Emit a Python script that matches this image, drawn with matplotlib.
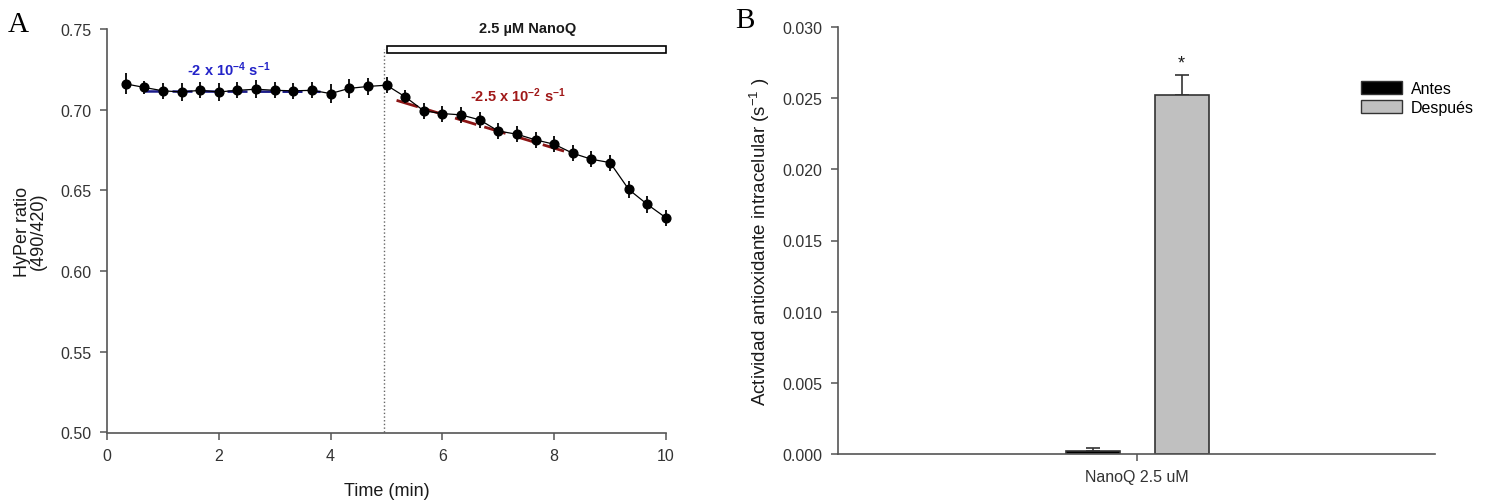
import numpy as np
import matplotlib
matplotlib.use('Agg')
from matplotlib import pyplot as plt
from matplotlib.patches import Rectangle, Patch

plt.rcParams['font.family'] = ['Liberation Sans', 'DejaVu Sans']
plt.rcParams['mathtext.default'] = 'regular'

# Panel A: HyPer ratio over time
time_min = np.arange(1, 31) / 3.0
hyper_ratio = [0.716, 0.7138, 0.7117, 0.711, 0.712, 0.711, 0.712, 0.7127, 0.712, 0.7117,
               0.712, 0.710, 0.7132, 0.7144, 0.7152, 0.708, 0.6993, 0.6976, 0.6968, 0.6937,
               0.6868, 0.6848, 0.6813, 0.6786, 0.673, 0.6693, 0.6672, 0.6506, 0.6413, 0.633]
hyper_sem = [0.0065, 0.004, 0.005, 0.0055, 0.005, 0.0055, 0.005, 0.0055, 0.005, 0.005,
             0.005, 0.006, 0.006, 0.005, 0.005, 0.004, 0.005, 0.005, 0.005, 0.005,
             0.005, 0.005, 0.005, 0.005, 0.005, 0.005, 0.005, 0.005, 0.005, 0.005]
fit_before_x = [0.68, 3.82]
fit_before_y = [0.7113, 0.7111]
fit_after_x = [5.18, 8.35]
fit_after_y = [0.7058, 0.6725]
treatment_start = 4.95
treatment_bar = (5.0, 10.0)

# Panel B: antioxidant activity
groups = ['Antes', 'Después']
category = 'NanoQ 2.5 uM'
activity = [0.0002, 0.02524]
activity_err = [0.0002, 0.0014]

axis_gray = '#555555'
label_gray = '#333333'

fig = plt.figure(figsize=(14.87, 5.02), dpi=100)

# ---- Panel A ----
ax1 = fig.add_axes([107 / 1487, 1 - 433.5 / 502, (666 - 107) / 1487, (433.5 - 30) / 502])
ax1.plot(time_min, hyper_ratio, color='black', lw=0.9, zorder=3, clip_on=False)
ax1.errorbar(time_min, hyper_ratio, yerr=hyper_sem, fmt='o', color='black', ms=6.3,
             elinewidth=1.3, capsize=0, zorder=4, clip_on=False)
ax1.plot(fit_before_x, fit_before_y, color='#1c1c8a', lw=1.8, ls=(0, (8, 3)), zorder=2)
ax1.plot(fit_after_x, fit_after_y, color='#8b1515', lw=2.0, ls=(0, (8, 3)), zorder=2)
ax1.plot([treatment_start, treatment_start], [0.50, 0.7375], color='#666666', lw=1,
         ls=':', zorder=1)
ax1.add_patch(Rectangle((treatment_bar[0], 0.7351), treatment_bar[1] - treatment_bar[0],
                        0.0046, facecolor='white', edgecolor='black', lw=1.2, clip_on=False))
ax1.text(7.53, 0.7506, '2.5 µM NanoQ', ha='center', va='center', fontsize=10.5,
         fontweight='bold', color='#1a1a1a', clip_on=False)
ax1.text(2.17, 0.7252, r'-2 x 10$^{-4}$ s$^{-1}$', ha='center', va='center', fontsize=10.5,
         fontweight='bold', color='#2323c8')
ax1.text(7.35, 0.7096, r'-2.5 x 10$^{-2}$ s$^{-1}$', ha='center', va='center', fontsize=10.5,
         fontweight='bold', color='#a01818')

ax1.set_xlim(0, 10)
ax1.set_ylim(0.50, 0.75)
ax1.set_xticks(np.arange(0, 11, 2))
ax1.set_yticks(np.arange(0.50, 0.751, 0.05))
ax1.set_yticklabels(['%.2f' % v for v in np.arange(0.50, 0.751, 0.05)])
ax1.set_xlabel('Time (min)', fontsize=13, labelpad=14, color='#1a1a1a')
ax1.set_ylabel('HyPer ratio\n(490/420)', fontsize=13, labelpad=10, color='#1a1a1a',
               linespacing=0.9)
for s in ['top', 'right']:
    ax1.spines[s].set_visible(False)

# ---- Panel B ----
ax2 = fig.add_axes([838 / 1487, 1 - 455 / 502, (1435 - 838) / 1487, (455 - 28) / 502])
offsets = [-0.08, 0.0825]
colors = ['black', '#c0c0c0']
for off, val, err, col, name in zip(offsets, activity, activity_err, colors, groups):
    ax2.bar(off, val, width=0.099, color=col, edgecolor='#333333', lw=1.2, label=name,
            zorder=2)
    ax2.errorbar(off, val, yerr=[[0], [err]], fmt='none', ecolor='#333333',
                 elinewidth=1.2, capsize=5, capthick=1.2, zorder=1)
ax2.text(offsets[1], activity[1] + activity_err[1] + 0.0008, '*', ha='center',
         va='center', fontsize=13, color='#1a1a1a')

ax2.set_xlim(-0.545, 0.545)
ax2.set_ylim(0, 0.030)
ax2.set_xticks([0])
ax2.set_xticklabels([category])
ax2.set_yticks(np.arange(0, 0.0301, 0.005))
ax2.set_yticklabels(['%.3f' % v for v in np.arange(0, 0.0301, 0.005)])
ax2.set_ylabel(r'Actividad antioxidante intracelular (s$^{-1}$ )', fontsize=13.5,
               labelpad=8, color='#1a1a1a')
for s in ['top', 'right']:
    ax2.spines[s].set_visible(False)

handles = [Patch(facecolor='black', edgecolor='#333333', label='Antes'),
           Patch(facecolor='#c0c0c0', edgecolor='#333333', label='Después')]
ax2.legend(handles=handles, loc='upper left', bbox_to_anchor=(0.862, 0.892), frameon=False,
           fontsize=11.5, handlelength=2.6, handleheight=0.8, handletextpad=0.55,
           labelspacing=0.25, borderpad=0)

for ax in (ax1, ax2):
    for s in ['left', 'bottom']:
        ax.spines[s].set_color(axis_gray)
        ax.spines[s].set_linewidth(1.2)
    ax.tick_params(direction='out', length=5, width=1.1, color=axis_gray,
                   labelsize=11.5, labelcolor=label_gray, pad=6)

fig.text(18 / 1487, 1 - 25 / 502, 'A', fontsize=21, family='Liberation Serif',
         ha='center', va='center')
fig.text(745 / 1487, 1 - 21 / 502, 'B', fontsize=21, family='Liberation Serif',
         ha='center', va='center')

fig.savefig('out.png', dpi=100)
